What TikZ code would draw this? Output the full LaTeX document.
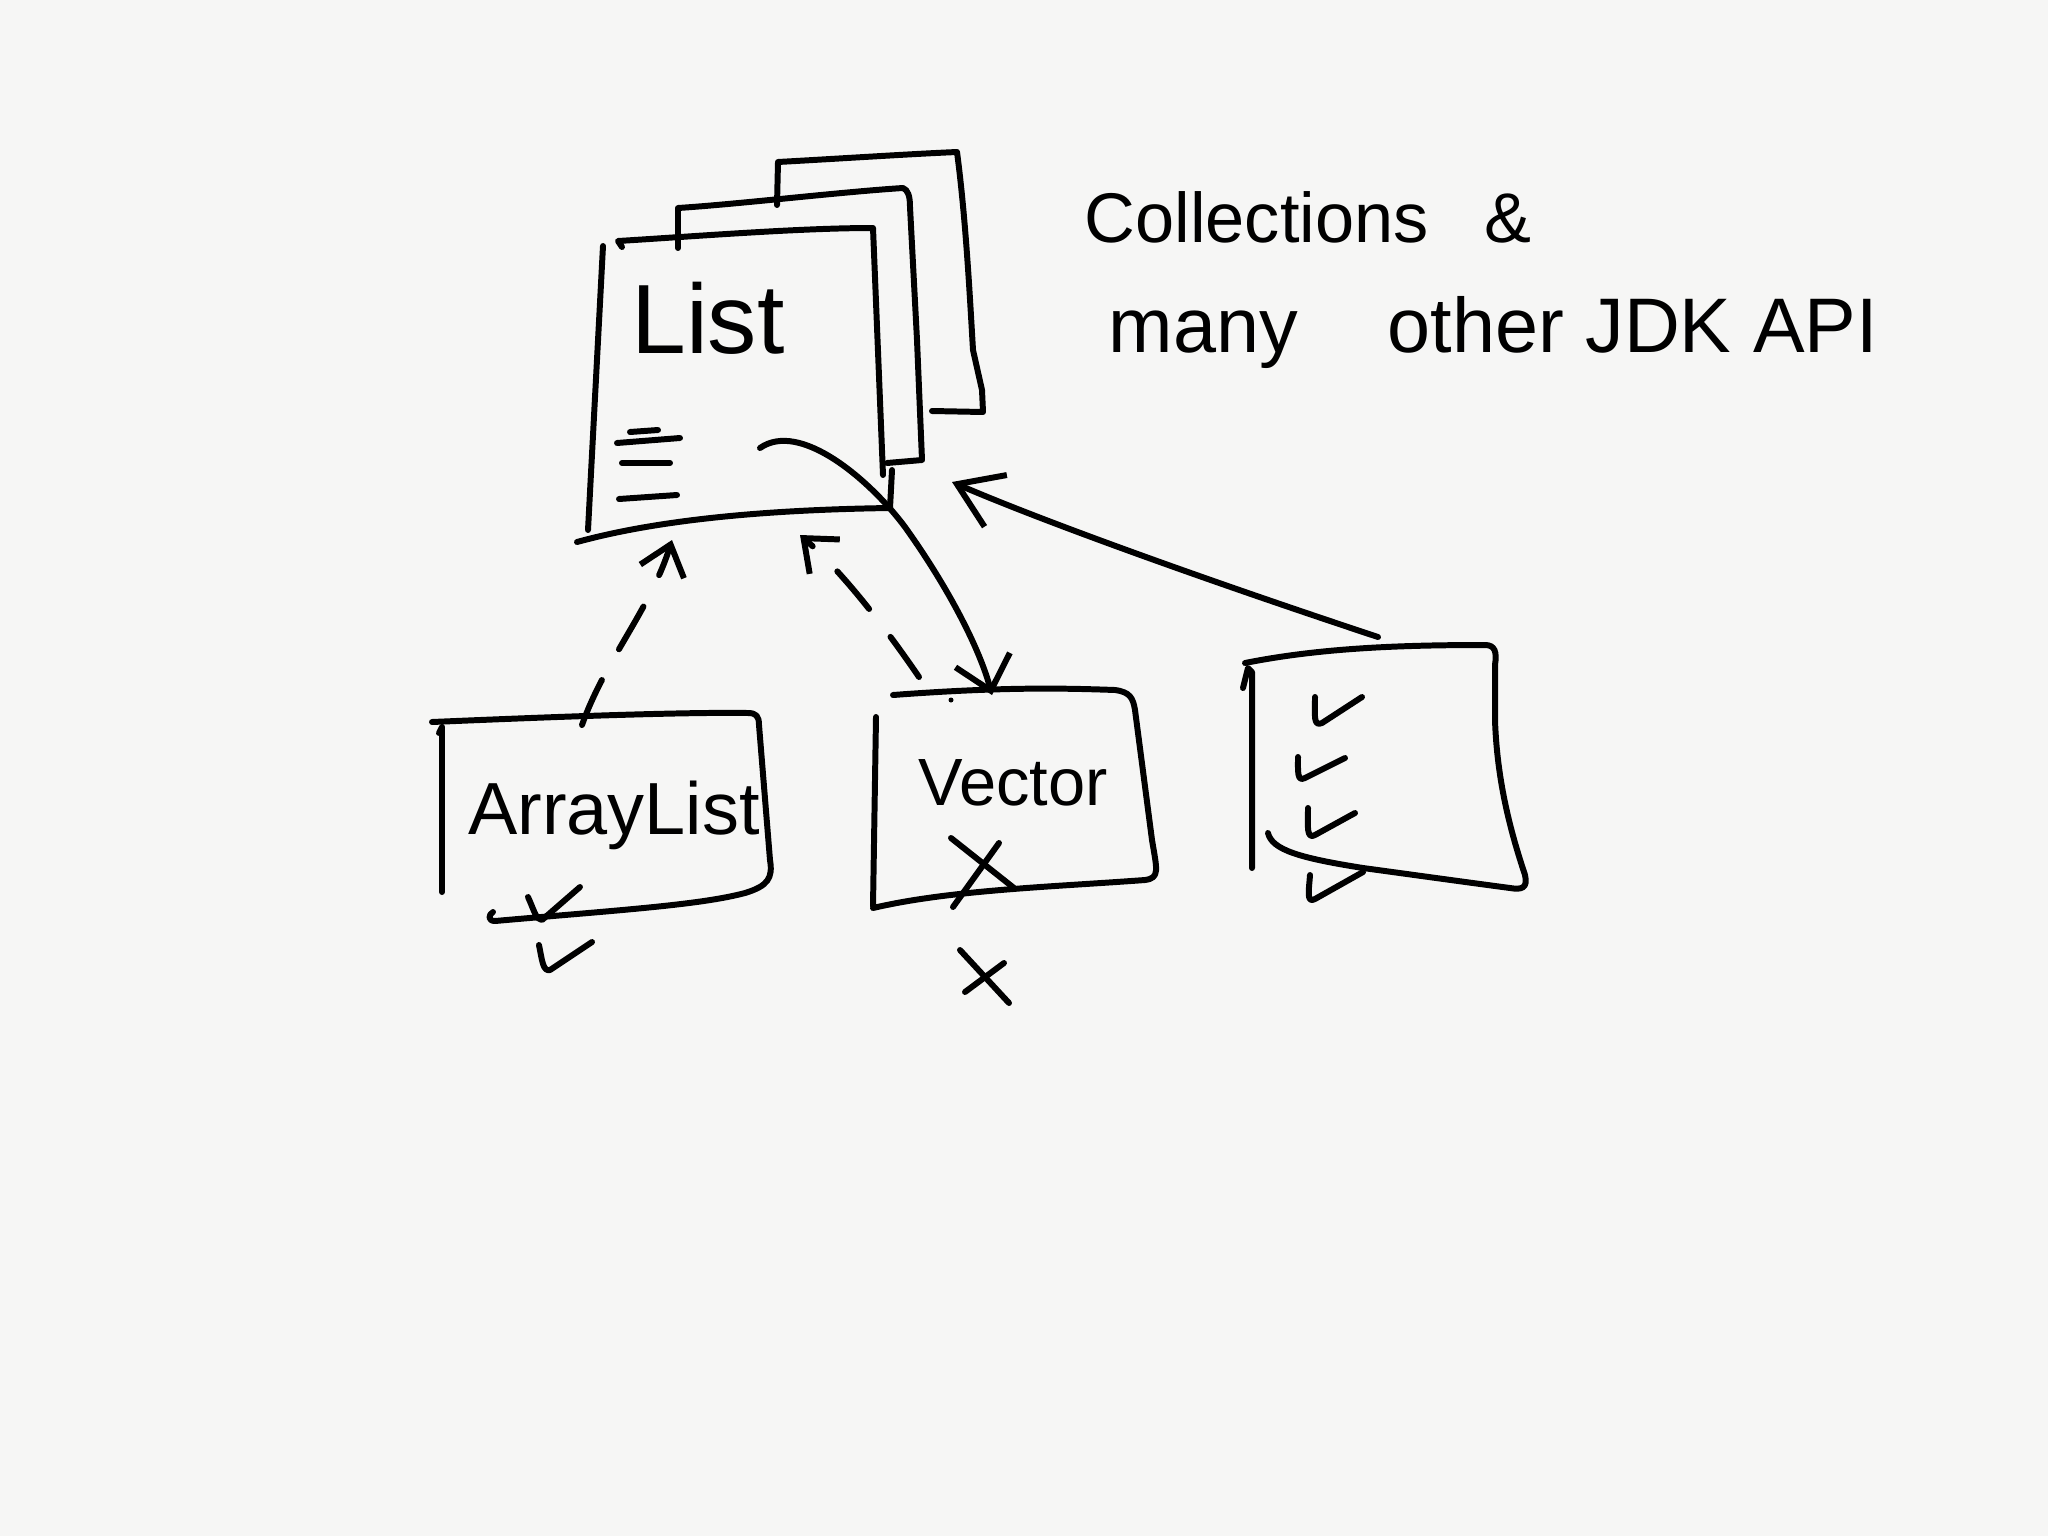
\documentclass[tikz,border=0pt]{standalone}
\usepackage{fontspec}
\setmainfont{Liberation Sans}
\usetikzlibrary{arrows.meta}
\definecolor{paper}{RGB}{246,246,245}
\begin{document}
\begin{tikzpicture}[x=0.01cm,y=-0.01cm,
  pen/.style={line width=1.7pt, line cap=round, line join=round, black},
  dashpen/.style={pen, dash pattern=on 14pt off 10pt},
  lbl/.style={inner sep=0pt, text=black}]
\fill[paper] (0,0) rectangle (2048,1536);
\useasboundingbox (0,0) rectangle (2048,1536);

% ---- stacked pages behind List
\draw[pen] (777,205) -- (778,162) .. controls (850,158) and (910,154) .. (957,152)
  .. controls (966,220) and (970,300) .. (973,350) -- (982,390) -- (983,412) -- (932,411);
\draw[pen] (678,248) -- (678,208) .. controls (740,204) and (840,192) .. (903,188)
  .. controls (908,190) and (910,196) .. (910,207) -- (917,340) -- (922,460) -- (887,463);
% ---- front List page
\draw[pen] (603,246) -- (588,530);
\draw[pen] (622,247) -- (618,241) .. controls (700,236) and (800,228) .. (873,228) -- (883,475);
\draw[pen] (577,542) .. controls (650,522) and (750,510) .. (890,508) -- (892,470);
\node[lbl, font=\fontsize{28}{30}\selectfont] (list) at (708,318) {List};
\draw[pen] (630,432) -- (658,430);
\draw[pen] (617,443) -- (680,438);
\draw[pen] (622,463) -- (670,463);
\draw[pen] (619,499) -- (677,495);

% ---- ArrayList box
\draw[pen] (439,733) -- (442,727) -- (442,892);
\draw[pen] (432,722) .. controls (550,717) and (680,712) .. (748,713)
  .. controls (756,713) and (759,716) .. (759,725) -- (770,860)
  .. controls (773,878) and (768,886) .. (745,893)
  .. controls (700,905) and (620,910) .. (495,921)
  .. controls (488,921) and (488,915) .. (493,912);
\node[lbl, font=\fontsize{21}{24}\selectfont] (arraylist) at (614,815) {ArrayList};
\draw[pen] (528,897) .. controls (534,910) and (536,920) .. (542,920) -- (580,887);
\draw[pen] (539,945) .. controls (542,960) and (543,972) .. (550,970) -- (592,942);

% ---- Vector box
\draw[pen] (876,717) -- (873,906);
\draw[pen] (893,695) .. controls (1000,687) and (1060,688) .. (1115,690)
  .. controls (1130,692) and (1133,698) .. (1135,710) -- (1152,840)
  .. controls (1157,870) and (1160,878) .. (1145,880)
  .. controls (1050,887) and (950,890) .. (873,908);
\node[lbl, font=\fontsize{19}{22}\selectfont] (vector) at (1013,783) {Vector};
\draw[pen] (951,838) -- (1014,888);
\draw[pen] (999,843) -- (953,907);
\draw[pen] (960,950) -- (1009,1003);
\draw[pen] (1004,963) -- (965,992);
\fill (951,700) circle (2.5);

% ---- third box
\draw[pen] (1243,688) -- (1248,668) -- (1252,672) -- (1252,868);
\draw[pen] (1245,663) .. controls (1320,648) and (1400,645) .. (1485,645)
  .. controls (1495,645) and (1497,652) .. (1495,665) -- (1495,720)
  .. controls (1497,780) and (1510,830) .. (1525,875)
  .. controls (1528,888) and (1522,890) .. (1510,888)
  .. controls (1450,880) and (1400,873) .. (1363,868)
  .. controls (1300,858) and (1272,850) .. (1268,833);
\draw[pen] (1315,697) .. controls (1315,715) and (1313,727) .. (1322,723) -- (1362,697);
\draw[pen] (1298,757) .. controls (1298,772) and (1297,782) .. (1305,778) -- (1345,758);
\draw[pen] (1308,808) .. controls (1308,825) and (1306,840) .. (1315,835) -- (1355,813);
\draw[pen] (1310,875) .. controls (1309,890) and (1306,904) .. (1315,899) -- (1363,872);

% ---- connectors
\coordinate (alTop) at (582,725);
\coordinate (listBotL) at (672,540);
\coordinate (vecTopL) at (919,677);
\coordinate (listBotR) at (800,535);
\coordinate (listIn) at (760,448);
\coordinate (vecTop) at (992,695);
\coordinate (thirdTop) at (1378,637);
\coordinate (listRight) at (952,482);

\draw[dashpen, -{Straight Barb[length=8pt,width=13pt]}] (alTop) .. controls (605,660) and (650,610) .. (listBotL);
\draw[dashpen, -{Straight Barb[length=8pt,width=13pt]}] (vecTopL) .. controls (880,620) and (840,570) .. (listBotR);
\draw[pen, -{Straight Barb[length=9pt,width=16pt]}] (listIn) .. controls (800,420) and (870,480) .. (905,527)
  .. controls (950,590) and (980,650) .. (vecTop);
\draw[pen, -{Straight Barb[length=12pt,width=16pt]}] (thirdTop) .. controls (1200,578) and (1040,520) .. (listRight);

% ---- note
\node[lbl, anchor=base west, font=\fontsize{20}{24}\selectfont] (note1) at (1084,242) {Collections\hspace{0.8em}\&};
\node[lbl, anchor=base west, font=\fontsize{22}{26}\selectfont] (note2) at (1108,352) {many\hspace{1.16em}other JDK API};
\end{tikzpicture}
\end{document}
